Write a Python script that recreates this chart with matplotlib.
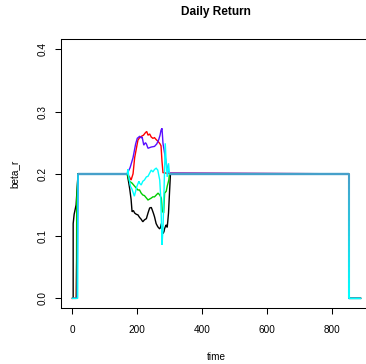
import numpy as np
import matplotlib
matplotlib.use("Agg")
import matplotlib.pyplot as plt
from matplotlib.collections import LineCollection
from matplotlib.colors import to_rgb

plt.rcParams['font.family'] = ['Liberation Sans', 'DejaVu Sans']

# ---- data -------------------------------------------------------------
t_end = 886          # last time index
t_drop = 850         # time where every series falls back to zero
plateau = 0.2        # common level of all series

colors = ["black", "red", "#00CD00", "#5A10FF", "cyan"]

# start-up ramp of each series (time, beta_r)
ramp_t = [
    [1, 3, 3, 6, 8, 10, 12, 18],
    [1, 12, 18],
    [1, 13, 14, 17, 18],
    [1, 15, 18],
    [1, 17, 18],
]
ramp_y = [
    [0.0, 0.0, 0.12, 0.135, 0.14, 0.145, 0.15, 0.2],
    [0.0, 0.0, 0.2],
    [0.0, 0.0, 0.16, 0.19, 0.2],
    [0.0, 0.0, 0.2],
    [0.0, 0.0, 0.2],
]

# window where the series move apart
win_t = [
    [169, 174, 177, 181, 184, 188, 192, 197, 202, 207, 212, 217, 222, 228, 233,
     238, 243, 246, 250, 253, 258, 263, 268, 271, 274, 277, 279, 282, 284, 287,
     289, 292, 294, 296, 299, 302],
    [169, 176, 181, 187, 192, 197, 202, 207, 212, 219, 225, 229, 233, 238, 243,
     248, 253, 258, 264, 270, 273, 276, 279, 289, 299],
    [169, 176, 184, 192, 202, 207, 212, 217, 222, 233, 243, 248, 253, 264, 269,
     274, 277, 281, 284, 289, 292, 297, 299],
    [169, 178, 187, 195, 200, 207, 212, 215, 220, 225, 228, 233, 243, 253, 260,
     266, 270, 273, 276, 279, 284, 289, 294, 299],
    [169, 171, 174, 179, 184, 191, 199, 205, 207, 212, 217, 222, 228, 233, 238,
     243, 248, 253, 258, 263, 269, 272, 274, 276, 279, 282, 286, 289, 292, 296,
     299],
]
win_y = [
    [0.200, 0.185, 0.175, 0.159, 0.139, 0.141, 0.137, 0.135, 0.134, 0.130, 0.127,
     0.123, 0.126, 0.128, 0.137, 0.145, 0.146, 0.142, 0.136, 0.131, 0.120, 0.115,
     0.112, 0.113, 0.120, 0.108, 0.104, 0.107, 0.112, 0.116, 0.118, 0.114, 0.125,
     0.137, 0.169, 0.200],
    [0.200, 0.195, 0.190, 0.200, 0.226, 0.240, 0.254, 0.258, 0.260, 0.262, 0.266,
     0.268, 0.262, 0.264, 0.259, 0.257, 0.258, 0.255, 0.252, 0.248, 0.245, 0.220,
     0.202, 0.201, 0.201],
    [0.200, 0.188, 0.185, 0.180, 0.174, 0.174, 0.169, 0.166, 0.165, 0.158, 0.161,
     0.163, 0.163, 0.169, 0.166, 0.161, 0.140, 0.137, 0.169, 0.172, 0.180, 0.190,
     0.200],
    [0.200, 0.210, 0.226, 0.248, 0.257, 0.260, 0.258, 0.259, 0.246, 0.250, 0.248,
     0.241, 0.243, 0.244, 0.248, 0.255, 0.262, 0.270, 0.273, 0.249, 0.233, 0.217,
     0.206, 0.201],
    [0.200, 0.207, 0.195, 0.180, 0.175, 0.164, 0.180, 0.188, 0.185, 0.182, 0.188,
     0.190, 0.195, 0.196, 0.201, 0.206, 0.203, 0.207, 0.209, 0.206, 0.190, 0.163,
     0.126, 0.086, 0.110, 0.169, 0.249, 0.217, 0.195, 0.217, 0.200],
]

x_ticks = [0, 200, 400, 600, 800]
y_ticks = [0.0, 0.1, 0.2, 0.3, 0.4]
y_tick_labels = ["0.0", "0.1", "0.2", "0.3", "0.4"]

# ---- figure -----------------------------------------------------------
W, H = 366, 364
fig = plt.figure(figsize=(W / 100, H / 100), dpi=100)
ax = fig.add_axes([61 / W, 1 - 308.3 / H, (372 - 61) / W, (308.3 - 39.3) / H])

for c, rt, ry, wt, wy in zip(colors, ramp_t, ramp_y, win_t, win_y):
    xs = rt + wt + [t_drop, t_drop, t_end]
    ys = ry + wy + [plateau, 0.0, 0.0]
    ax.plot(xs, ys, color=c, lw=1.0, solid_joinstyle="miter")

# shared plateau where all series coincide
steel = "#46A0CA"
ax.plot([ramp_t[-1][-1], win_t[0][0]], [plateau, plateau], color=steel, lw=1.7,
        solid_capstyle="butt")
ax.plot([win_t[1][-1], t_drop], [plateau, plateau], color=steel, lw=1.7,
        solid_capstyle="butt")

# drop at the end, fading from the shared colour into cyan
n = 24
yy = np.linspace(plateau, 0.0, n + 1)
segs = [[(t_drop, yy[i]), (t_drop, yy[i + 1])] for i in range(n)]
c0, c1 = np.array(to_rgb(steel)), np.array(to_rgb("cyan"))
seg_cols = [tuple(c0 + (c1 - c0) * (i / (n - 1))) for i in range(n)]
ax.add_collection(LineCollection(segs, colors=seg_cols, lw=1.5))
ax.plot([t_drop, t_end], [0, 0], color="cyan", lw=1.0)

span = t_end - 1
ax.set_xlim(1 - 0.04 * span, t_end + 0.04 * span)
ax.set_ylim(-0.016, 0.416)

ax.set_xticks(x_ticks)
ax.set_xticklabels([str(v) for v in x_ticks])
ax.set_yticks(y_ticks)
ax.set_yticklabels(y_tick_labels, rotation=90, va="center")
ax.tick_params(axis="both", direction="out", length=4.3, width=0.75,
               labelsize=7.2, color="black")
ax.tick_params(axis="x", pad=7.5)
ax.tick_params(axis="y", pad=5.5)
for s in ax.spines.values():
    s.set_linewidth(0.75)
    s.set_color("black")

ax.set_xlabel("time", fontsize=7.2)
ax.xaxis.set_label_coords(0.5, (308.3 - 357) / 269)
ax.xaxis.label.set_va("center")
ax.set_ylabel("beta_r", fontsize=7.2)
ax.yaxis.set_label_coords((15 - 61) / 311, 0.5)
ax.yaxis.label.set_va("center")

fig.text(215.5 / W, 1 - 12.3 / H, "Daily Return", ha="center", va="center",
         fontsize=8.6, fontweight="bold")

fig.savefig("out.png", dpi=100)
